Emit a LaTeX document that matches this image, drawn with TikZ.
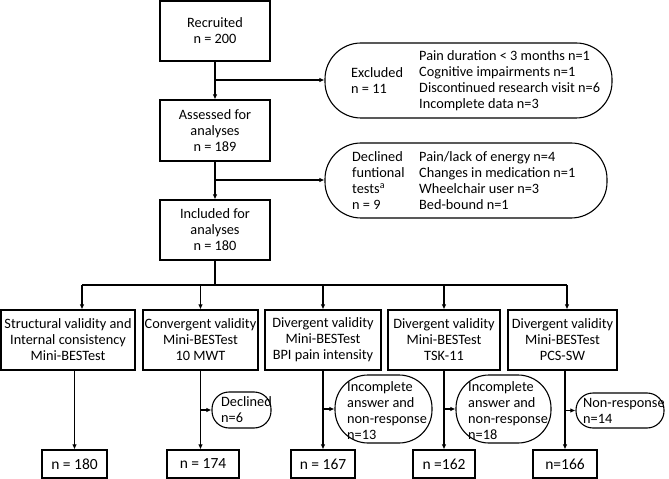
\documentclass[tikz,border=0pt]{standalone}
\usepackage{fontspec}
\setmainfont{Carlito}
\usetikzlibrary{arrows.meta}
\begin{document}
\begin{tikzpicture}[x=1bp,y=-1bp,
  every node/.style={font=\fontsize{14.3bp}{16bp}\selectfont, inner sep=0pt},
  box/.style={draw, line width=1.1bp, align=center},
  fbox/.style={draw, line width=1.1bp, align=center, minimum height=28bp, font=\fontsize{15.5bp}{18bp}\selectfont},
  pill/.style={draw, line width=1.1bp, rounded corners=#1},
  ln/.style={line width=1.1bp},
  arr/.style={line width=1.1bp, -{Latex[length=5bp,width=4.5bp]}},
  lbl/.style={anchor=west, align=left},
]
\useasboundingbox (0,0) rectangle (669,479);

% top column
\node[box, minimum width=110bp, minimum height=60bp] (rec) at (215,31) {Recruited\\n = 200};
\node[box, minimum width=110bp, minimum height=61bp] (ass) at (215,130.5) {Assessed for\\analyses\\n = 189};
\node[box, minimum width=110bp, minimum height=60bp] (inc) at (215,230) {Included for\\analyses\\n = 180};

% exclusion pills
\node[pill=36bp, minimum width=287bp, minimum height=75bp] (exc) at (468.5,80.5) {};
\node[lbl] (excA) at (351,80.5) {Excluded\\n = 11};
\node[lbl] (excB) at (419,80.5) {Pain duration < 3 months n=1\\Cognitive impairments n=1\\Discontinued research visit n=6\\Incomplete data n=3};

\node[pill=36bp, minimum width=282bp, minimum height=75bp] (dec) at (466,180.5) {};
\node[lbl] (decA) at (352,180.5) {Declined\\funtional\\tests\textsuperscript{a}\\n = 9};
\node[lbl] (decB) at (419,180.5) {Pain/lack of energy n=4\\Changes in medication n=1\\Wheelchair user n=3\\Bed-bound n=1};

\coordinate (b1) at (215,80);
\coordinate (b2) at (215,180);
\draw[arr] (rec.south) -- (ass.north);
\draw[arr] (ass.south) -- (inc.north);
\draw[arr] (b1) -- (b1 -| exc.west);
\draw[arr] (b2) -- (b2 -| dec.west);

% analysis boxes
\node[box, minimum width=134bp, minimum height=60bp] (r1) at (68,340) {Structural validity and\\Internal consistency\\Mini-BESTest};
\node[box, minimum width=115bp, minimum height=60bp] (r2) at (200.5,340) {Convergent validity\\Mini-BESTest\\10 MWT};
\node[box, minimum width=116bp, minimum height=60bp] (r3) at (323,340) {Divergent validity\\Mini-BESTest\\BPI pain intensity};
\node[box, minimum width=112bp, minimum height=60bp] (r4) at (444,340) {Divergent validity\\Mini-BESTest\\TSK-11};
\node[box, minimum width=109bp, minimum height=60bp] (r5) at (562.5,340) {Divergent validity\\Mini-BESTest\\PCS-SW};

% tree
\coordinate (t0) at (215,285);
\coordinate (tl) at (82,285);
\coordinate (tr) at (567,285);
\draw[ln] (inc.south) -- (t0);
\draw[ln] (tl) -- (tr);
\draw[arr] (tl) -- (tl |- r1.north);
\draw[arr] (r2.north |- t0) -- (r2.north);
\draw[arr] (r3.north |- t0) -- (r3.north);
\draw[arr] (r4.north |- t0) -- (r4.north);
\draw[arr] (tr) -- (tr |- r5.north);

% final boxes
\node[fbox, minimum width=65bp] (f1) at (74.5,464) {n = 180};
\node[fbox, minimum width=72bp] (f2) at (203,464) {n = 174};
\node[fbox, minimum width=64bp] (f3) at (323,464) {n = 167};
\node[fbox, minimum width=62bp] (f4) at (444,464) {n =162};
\node[fbox, minimum width=64bp] (f5) at (565,464) {n=166};

% side pills
\node[pill=17bp, minimum width=59bp, minimum height=36bp] (d6) at (241.5,410) {};
\node[lbl] (d6t) at (221,410) {Declined\\n=6};
\node[pill=33bp, minimum width=97bp, minimum height=68bp] (i13) at (383.5,409) {};
\node[lbl] (i13t) at (347,410.5) {Incomplete\\answer and\\non-response\\n=13};
\node[pill=33bp, minimum width=95bp, minimum height=68bp] (i18) at (503.5,409) {};
\node[lbl] (i18t) at (468,410.5) {Incomplete\\answer and\\non-response\\n=18};
\node[pill=17bp, minimum width=88bp, minimum height=35bp] (nr) at (620,410.5) {};
\node[lbl] (nrt) at (583,410.5) {Non-response\\n=14};

% verticals to final boxes
\draw[arr] (r1.south -| f1.north) -- (f1.north);
\draw[arr] (r2.south) -- (r2.south |- f2.north);
\draw[arr] (r3.south) -- (f3.north);
\draw[arr] (r4.south) -- (f4.north);
\draw[arr] (r5.south -| f5.north) -- (f5.north);

% side arrows
\draw[arr] (r2.south |- d6.west) -- (d6.west);
\draw[arr] (r3.south |- i13.west) -- (i13.west);
\draw[arr] (r4.south |- i18.west) -- (i18.west);
\draw[arr] (f5.north |- nr.west) -- (nr.west);
\end{tikzpicture}
\end{document}
